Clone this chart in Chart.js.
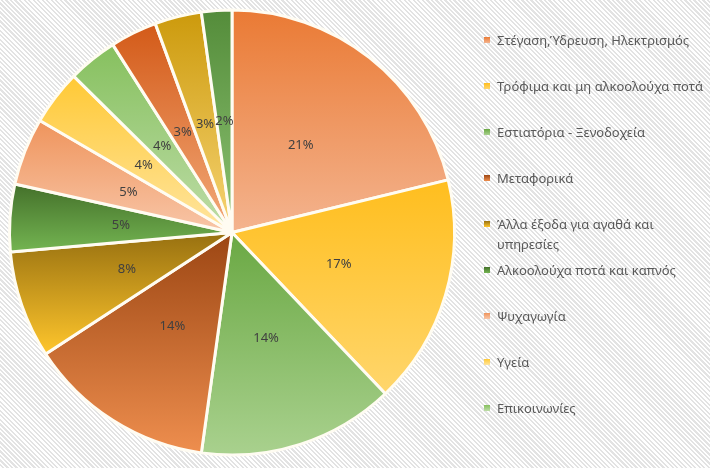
<!DOCTYPE html>
<html>
<head>
<meta charset="utf-8">
<script src="https://cdn.jsdelivr.net/npm/chart.js@4"></script>
<style>
    html, body { margin: 0; padding: 0; }
    body {
        width: 710px; height: 468px; overflow: hidden; position: relative;
        background: repeating-linear-gradient(45deg, #ffffff 0px, #ffffff 1.6px, #e3e3e3 1.6px, #e3e3e3 3.2px);
    }
    #pie-chart { position: absolute; left: 0; top: 0; }
    #legend {
        position: absolute; left: 484px; top: 30px; width: 226px;
        font-family: "Noto Sans", sans-serif; font-size: 13px; color: #595959;
    }
    .item { position: relative; height: 46px; padding-left: 13px; line-height: 20px; }
    .box { position: absolute; left: 0; top: 7px; width: 6px; height: 6px; }
</style>
</head>
<body>
<canvas id="pie-chart" width="710" height="468"></canvas>
<div id="legend"></div>
<script>
// data
var labels = [
    "Στέγαση,Ύδρευση, Ηλεκτρισμός",
    "Τρόφιμα και μη αλκοολούχα ποτά",
    "Εστιατόρια - Ξενοδοχεία",
    "Μεταφορικά",
    "Άλλα έξοδα για αγαθά και υπηρεσίες",
    "Αλκοολούχα ποτά και καπνός",
    "Ψυχαγωγία",
    "Υγεία",
    "Επικοινωνίες",
    "Ένδυση και υπόδηση",
    "Διαρκή αγαθά",
    "Εκπαίδευση"
];
var shares = [21.2, 16.7, 14.3, 13.6, 7.8, 4.9, 4.9, 4.0, 3.6, 3.4, 3.4, 2.2];
var legendCount = 9;

// gradient colours, top -> bottom of each slice
var topColors = ["#ea7a34", "#ffbe1e", "#6aa843", "#9c4613", "#977010", "#44702a",
                 "#ef945c", "#ffc935", "#86c05e", "#d35a18", "#cc9a0c", "#548c3a"];
var bottomColors = ["#f4b48f", "#ffd66c", "#a9d18e", "#ee8e4e", "#ffc62c", "#74b552",
                    "#f8c6a8", "#ffe5a0", "#bedda8", "#f3aa7a", "#f7d474", "#8dc373"];

function sliceBox(el) {
    var ys = [el.y];
    var a0 = el.startAngle, a1 = el.endAngle, r = el.outerRadius;
    ys.push(el.y + r * Math.sin(a0), el.y + r * Math.sin(a1));
    for (var k = -4; k <= 8; k++) {
        var a = k * Math.PI / 2;
        if (a > a0 && a < a1) ys.push(el.y + r * Math.sin(a));
    }
    return { top: Math.min.apply(null, ys), bottom: Math.max.apply(null, ys) };
}

function sliceFill(context) {
    var i = context.dataIndex;
    var el = context.element;
    if (!el || el.x === undefined || !el.outerRadius) return topColors[i];
    var box = sliceBox(el);
    var g = context.chart.ctx.createLinearGradient(0, box.top, 0, box.bottom);
    g.addColorStop(0, topColors[i]);
    g.addColorStop(1, bottomColors[i]);
    return g;
}

// percentage labels in the middle of each slice
var percentLabels = {
    id: 'percentLabels',
    afterDatasetsDraw: function (chart) {
        var ctx = chart.ctx;
        var values = chart.data.datasets[0].data;
        var total = values.reduce(function (a, b) { return a + b; }, 0);
        ctx.save();
        ctx.font = '13px "Noto Sans", sans-serif';
        ctx.fillStyle = '#404040';
        ctx.textAlign = 'center';
        ctx.textBaseline = 'middle';
        chart.getDatasetMeta(0).data.forEach(function (arc, i) {
            var p = arc.getCenterPoint();
            ctx.fillText(Math.round(values[i] / total * 100) + '%', p.x, p.y);
        });
        ctx.restore();
    }
};

var pieChart = new Chart(document.getElementById('pie-chart'), {
    type: 'pie',
    data: {
        labels: labels,
        datasets: [{
            data: shares,
            backgroundColor: sliceFill,
            borderColor: '#fffcf2',
            borderWidth: 3
        }]
    },
    options: {
        responsive: false,
        animation: false,
        layout: { padding: { left: 8, right: 254, top: 8, bottom: 11 } },
        plugins: {
            legend: { display: false },
            tooltip: { enabled: false }
        }
    },
    plugins: [percentLabels]
});
// second pass so the gradients know each slice's geometry
pieChart.update();

// legend
var legendHtml = '';
for (var i = 0; i < legendCount; i++) {
    legendHtml += '<div class="item"><span class="box" style="background:linear-gradient(' +
        topColors[i] + ',' + bottomColors[i] + ')"></span>' + labels[i] + '</div>';
}
document.getElementById('legend').innerHTML = legendHtml;
</script>
</body>
</html>
